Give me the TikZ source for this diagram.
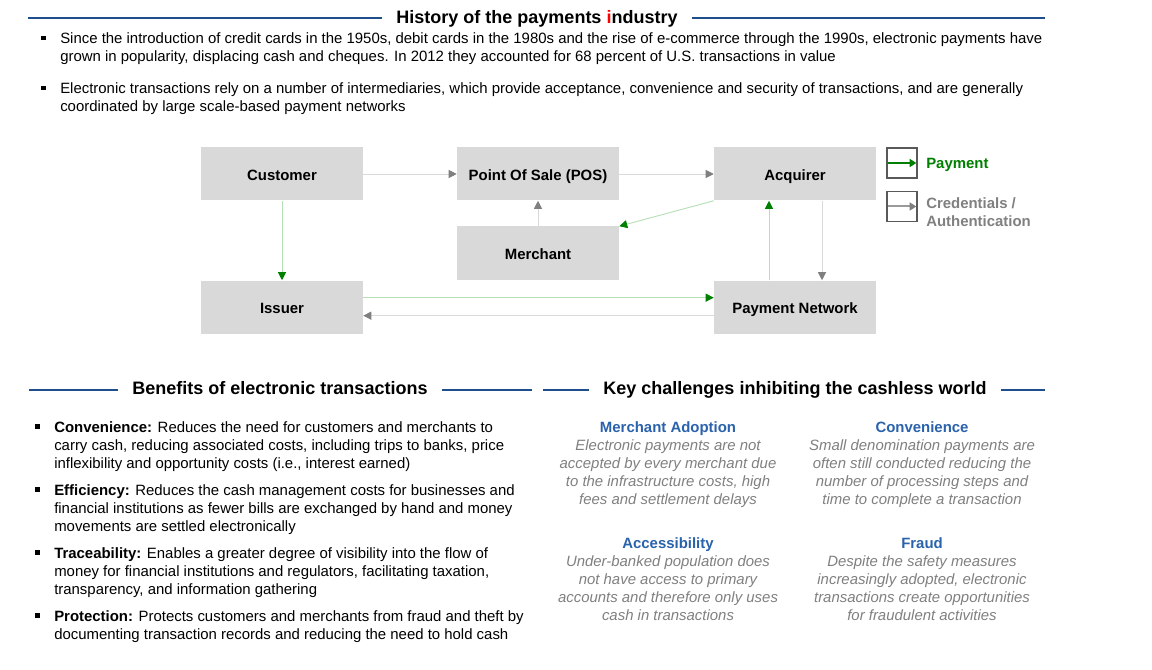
\documentclass[tikz,border=0pt]{standalone}
\usepackage{fontspec}
\setmainfont{Liberation Sans}
\usetikzlibrary{arrows.meta}
\definecolor{hdrblue}{HTML}{1F4E8C}
\definecolor{boxgray}{HTML}{D9D9D9}
\definecolor{arrgray}{HTML}{7F7F7F}
\definecolor{lngray}{HTML}{DADADA}
\definecolor{arrgreen}{HTML}{008000}
\definecolor{lngreen}{HTML}{B8E0B8}
\definecolor{chblue}{HTML}{2A62AC}
\definecolor{txtgray}{HTML}{808080}
\definecolor{lgborder}{HTML}{595959}
\definecolor{lggray}{HTML}{9A9A9A}
\tikzset{
  ent/.style={fill=boxgray, draw=none, minimum width=121.5pt, minimum height=39.75pt, inner sep=0pt,
    font=\fontsize{11.2}{13.5}\selectfont\bfseries, text height=10.3pt, text depth=0.5pt},
  grayflow/.style={draw=lngray, line width=0.7pt, -{Triangle[length=6pt,width=6pt,color=arrgray]}},
  greenflow/.style={draw=lngreen, line width=0.7pt, -{Triangle[length=6pt,width=6pt,color=arrgreen]}},
  hline/.style={draw=hdrblue, line width=1.5pt},
  hdr/.style={font=\fontsize{13.5}{16}\selectfont\bfseries, inner xsep=10.5pt, inner ysep=0pt, text height=9.7pt, text depth=2.8pt},
  body/.style={font=\fontsize{11.2}{13.5}\selectfont, inner sep=0pt, anchor=north west, align=left},
  chal/.style={font=\fontsize{11.2}{13.5}\selectfont\itshape, text=txtgray, inner sep=0pt, anchor=north, align=center},
  bul/.style={fill=black},
  lgbox/.style={draw=lgborder, line width=1pt, minimum width=22.5pt, minimum height=22.5pt, inner sep=0pt},
  lgtext/.style={font=\fontsize{11.2}{13.5}\selectfont\bfseries, inner sep=0pt, anchor=west, align=left}
}
\begin{document}
\begin{tikzpicture}[x=0.75pt,y=-0.75pt]
\useasboundingbox[fill=white] (0,0) rectangle (1152,670);

% ---------- Title ----------
\node[hdr] (title) at (537,19) {History of the payments \textcolor{red}{i}ndustry};
\coordinate (tL) at (28,18.5);
\coordinate (tR) at (1045,18.5);
\draw[hline] (tL) -- (tL -| title.west);
\draw[hline] (title.east |- tR) -- (tR);

% ---------- Top bullets ----------
\fill[bul] (41,36) rectangle (45.5,40.5);
\node[body] (b1) at (60,31) {\rule{0pt}{9pt}Since the introduction of credit cards in the 1950s, debit cards in the 1980s and the rise of e-commerce through the 1990s, electronic payments have\\grown in popularity, displacing cash and cheques. In 2012 they accounted for 68 percent of U.S. transactions in value};
\fill[bul] (41,86) rectangle (45.5,90.5);
\node[body] (b2) at (60,81) {\rule{0pt}{9pt}Electronic transactions rely on a number of intermediaries, which provide acceptance, convenience and security of transactions, and are generally\\coordinated by large scale-based payment networks};

% ---------- Diagram ----------
\node[ent] (cust) at (282,174) {Customer};
\node[ent] (pos)  at (538,174) {Point Of Sale (POS)};
\node[ent] (acq)  at (795,174) {Acquirer};
\node[ent] (mer)  at (538,253) {Merchant};
\node[ent] (iss)  at (282,307) {Issuer};
\node[ent] (pn)   at (795,307) {Payment Network};

\draw[grayflow] (cust) -- (pos);
\draw[grayflow] (pos) -- (acq);
\draw[grayflow] (mer) -- (pos);
\draw[greenflow] (acq.south west) -- (mer.north east);
\draw[greenflow] (cust) -- (iss);
\draw[greenflow] ([yshift=7pt]iss.east) -- ([yshift=7pt]pn.west);
\draw[grayflow] ([yshift=-6.5pt]pn.west) -- ([yshift=-6.5pt]iss.east);
\draw[greenflow] ([xshift=-19.5pt]pn.north) -- ([xshift=-19.5pt]acq.south);
\draw[grayflow] ([xshift=20.25pt]acq.south) -- ([xshift=20.25pt]pn.north);

% ---------- Legend ----------
\node[lgbox] (lg1) at (902,163) {};
\node[lgbox] (lg2) at (902,206.5) {};
\draw[draw=arrgreen, line width=1.5pt, -{Triangle[length=5pt,width=6pt]}] ([xshift=1.5pt]lg1.west) -- ([xshift=-1pt]lg1.east);
\draw[draw=lggray, line width=1.5pt, -{Triangle[length=5pt,width=6pt,color=arrgray]}] ([xshift=1.5pt]lg2.west) -- ([xshift=-1pt]lg2.east);
\node[lgtext, text=arrgreen] (lgt1) at (926,165) {Payment};
\node[lgtext, text=txtgray] (lgt2) at (926,212.5) {Credentials /\\Authentication};

% ---------- Section headers ----------
\node[hdr] (bh) at (280,390) {Benefits of electronic transactions};
\coordinate (bL) at (29,389.5);
\coordinate (bR) at (532,389.5);
\draw[hline] (bL) -- (bL -| bh.west);
\draw[hline] (bh.east |- bR) -- (bR);

\node[hdr] (ch) at (795,390) {Key challenges inhibiting the cashless world};
\coordinate (cL) at (543,389.5);
\coordinate (cR) at (1045,389.5);
\draw[hline] (cL) -- (cL -| ch.west);
\draw[hline] (ch.east |- cR) -- (cR);

% ---------- Benefits ----------
\fill[bul] (35,424) rectangle (39.5,428.5);
\node[body] (be1) at (54,420) {\rule{0pt}{9pt}\textbf{Convenience:} Reduces the need for customers and merchants to\\carry cash, reducing associated costs, including trips to banks, price\\inflexibility and opportunity costs (i.e., interest earned)};
\fill[bul] (35,487) rectangle (39.5,491.5);
\node[body] (be2) at (54,483) {\rule{0pt}{9pt}\textbf{Efficiency:} Reduces the cash management costs for businesses and\\financial institutions as fewer bills are exchanged by hand and money\\movements are settled electronically};
\fill[bul] (35,550) rectangle (39.5,554.5);
\node[body] (be3) at (54,546) {\rule{0pt}{9pt}\textbf{Traceability:} Enables a greater degree of visibility into the flow of\\money for financial institutions and regulators, facilitating taxation,\\transparency, and information gathering};
\fill[bul] (35,613) rectangle (39.5,617.5);
\node[body] (be4) at (54,609) {\rule{0pt}{9pt}\textbf{Protection:} Protects customers and merchants from fraud and theft by\\documenting transaction records and reducing the need to hold cash};

% ---------- Challenges ----------
\node[chal] (c1) at (668,420) {\rule{0pt}{9pt}\textcolor{chblue}{\textbf{\textup{Merchant Adoption}}}\\Electronic payments are not\\accepted by every merchant due\\to the infrastructure costs, high\\fees and settlement delays};
\node[chal] (c2) at (922,420) {\rule{0pt}{9pt}\textcolor{chblue}{\textbf{\textup{Convenience}}}\\Small denomination payments are\\often still conducted reducing the\\number of processing steps and\\time to complete a transaction};
\node[chal] (c3) at (668,536) {\rule{0pt}{9pt}\textcolor{chblue}{\textbf{\textup{Accessibility}}}\\Under-banked population does\\not have access to primary\\accounts and therefore only uses\\cash in transactions};
\node[chal] (c4) at (922,536) {\rule{0pt}{9pt}\textcolor{chblue}{\textbf{\textup{Fraud}}}\\Despite the safety measures\\increasingly adopted, electronic\\transactions create opportunities\\for fraudulent activities};
\end{tikzpicture}
\end{document}
